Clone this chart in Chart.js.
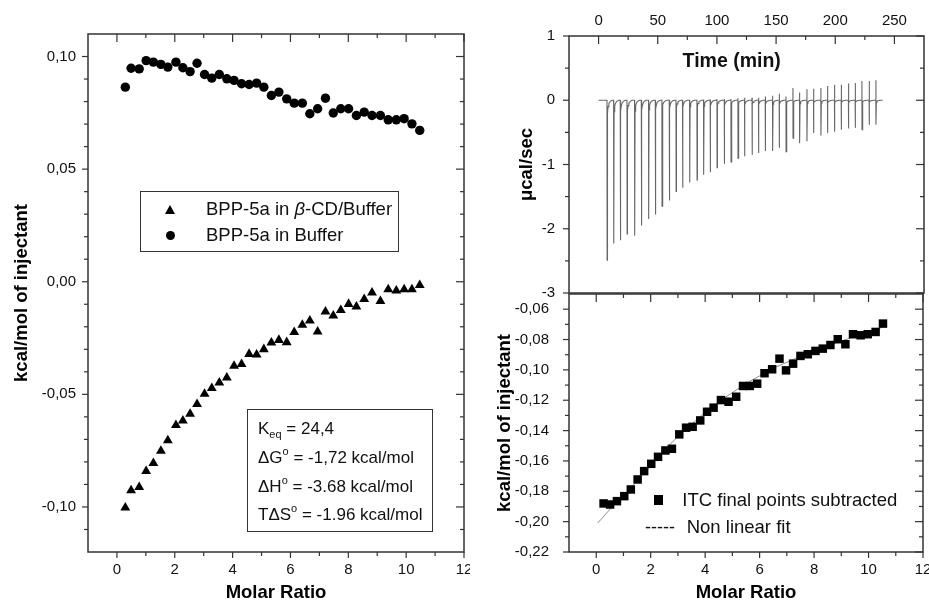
<!DOCTYPE html>
<html><head><meta charset="utf-8">
<script src="https://cdn.jsdelivr.net/npm/chart.js@4.4.1/dist/chart.umd.min.js"></script>
<style>
html,body{margin:0;padding:0;background:#fff;}
body{width:929px;height:600px;overflow:hidden;position:relative;font-family:'Liberation Sans',Arial,sans-serif;color:#111;}
.abs{position:absolute;}
.box{position:absolute;border:1.3px solid #333;box-sizing:border-box;}
.t{position:absolute;white-space:nowrap;line-height:1;transform:translateY(-50%);}
.t sub{font-size:11px;vertical-align:-4px;line-height:0;}
.t sup{font-size:11px;vertical-align:8px;line-height:0;}
</style></head><body>
<canvas id="cL" class="abs" style="left:0;top:0" width="480" height="620"></canvas>
<div class="abs" style="left:470px;top:0;width:459px;height:620px;background:#fff"></div>
<canvas id="cB" class="abs" style="left:470px;top:288px" width="459" height="332"></canvas>
<canvas id="cT" class="abs" style="left:470px;top:0" width="459" height="306"></canvas>

<!-- left legend -->
<div class="box" style="left:140px;top:191px;width:259px;height:61px"></div>
<div class="abs" style="left:164.5px;top:204.5px;width:0;height:0;border-left:5.5px solid transparent;border-right:5.5px solid transparent;border-bottom:9px solid #000"></div>
<div class="abs" style="left:165.5px;top:230.8px;width:9px;height:9px;border-radius:50%;background:#000"></div>
<div class="t" style="left:206px;top:209.3px;font-size:18.5px">BPP-5a in <i>β</i>-CD/Buffer</div>
<div class="t" style="left:206px;top:235.3px;font-size:18.5px">BPP-5a in Buffer</div>

<!-- thermodynamic box -->
<div class="box" style="left:247px;top:409px;width:186px;height:123px"></div>
<div class="t" style="left:258px;top:427.7px;font-size:17px">K<sub>eq</sub> = 24,4</div>
<div class="t" style="left:258px;top:456.7px;font-size:17px">ΔG<sup>o</sup> = -1,72 kcal/mol</div>
<div class="t" style="left:258px;top:485.7px;font-size:17px">ΔH<sup>o</sup> = -3.68 kcal/mol</div>
<div class="t" style="left:258px;top:514.3px;font-size:17px">TΔS<sup>o</sup> = -1.96 kcal/mol</div>

<!-- right panels texts -->
<div class="t" style="left:731.7px;top:61px;font-size:19.5px;font-weight:bold;transform:translate(-50%,-50%)">Time (min)</div>
<div class="abs" style="left:653.7px;top:495.4px;width:9.3px;height:9.3px;background:#000"></div>
<div class="t" style="left:682.3px;top:500px;font-size:18.5px">ITC final points subtracted</div>
<div class="t" style="left:645px;top:526.7px;font-size:18px">-----</div>
<div class="t" style="left:686.7px;top:526.7px;font-size:18.5px">Non linear fit</div>

<script>
// ---------------- data ----------------
const molarRatio = [0.29,0.49,0.77,1.01,1.26,1.52,1.76,2.04,2.28,2.53,2.77,3.03,3.28,3.54,3.80,4.05,4.31,4.57,4.83,5.08,5.34,5.60,5.87,6.13,6.41,6.67,6.94,7.21,7.48,7.74,8.01,8.28,8.55,8.82,9.11,9.38,9.66,9.93,10.20,10.47];
const heatBetaCD = [-0.1003,-0.0927,-0.0912,-0.0841,-0.0806,-0.0751,-0.0705,-0.0637,-0.0617,-0.0587,-0.0544,-0.0498,-0.0473,-0.0448,-0.0426,-0.0374,-0.0366,-0.0321,-0.0324,-0.0300,-0.0271,-0.0259,-0.0269,-0.0224,-0.0192,-0.0173,-0.0222,-0.0133,-0.0151,-0.0126,-0.0099,-0.0111,-0.0077,-0.0049,-0.0086,-0.0034,-0.0040,-0.0034,-0.0034,-0.0015];
const heatBuffer = [0.0864,0.0948,0.0945,0.0982,0.0975,0.0965,0.0953,0.0975,0.0950,0.0933,0.0970,0.0920,0.0904,0.0920,0.0901,0.0894,0.0879,0.0876,0.0882,0.0864,0.0827,0.0842,0.0812,0.0793,0.0793,0.0746,0.0768,0.0815,0.0749,0.0768,0.0768,0.0738,0.0753,0.0738,0.0738,0.0719,0.0719,0.0724,0.0701,0.0672];

const itcRatio = [0.27,0.51,0.76,1.03,1.27,1.52,1.76,2.02,2.27,2.54,2.78,3.05,3.30,3.54,3.82,4.07,4.31,4.58,4.86,5.14,5.39,5.64,5.91,6.18,6.46,6.73,6.97,7.23,7.50,7.77,8.05,8.32,8.60,8.87,9.15,9.43,9.71,9.97,10.26,10.53];
const itcHeat = [-0.188,-0.1887,-0.1865,-0.1832,-0.1788,-0.1722,-0.1667,-0.1619,-0.1573,-0.1531,-0.152,-0.1425,-0.1381,-0.1375,-0.1333,-0.1276,-0.1249,-0.1199,-0.121,-0.1177,-0.1106,-0.1106,-0.1091,-0.1022,-0.0996,-0.0926,-0.1003,-0.0959,-0.0908,-0.0897,-0.0875,-0.086,-0.0836,-0.0798,-0.0831,-0.0765,-0.0772,-0.0765,-0.075,-0.0695];
const fitRatio = [0.05,0.3,0.6,1,1.5,2,2.5,3,3.5,4,4.5,5,5.5,6,6.5,7,7.5,8,8.5,9,9.5,10,10.5];
const fitHeat = [-0.201,-0.196,-0.190,-0.183,-0.173,-0.163,-0.153,-0.144,-0.136,-0.128,-0.121,-0.115,-0.109,-0.104,-0.099,-0.095,-0.091,-0.087,-0.084,-0.081,-0.078,-0.075,-0.072];

const injTime = [7.1,12.7,18.3,24.0,30.4,36.1,42.2,47.9,53.5,59.7,65.4,70.9,76.9,83.1,88.7,94.3,100.0,106.2,111.8,117.7,123.3,129.6,135.1,140.8,147.0,152.6,158.3,164.2,169.8,176.0,181.6,187.8,193.4,199.3,205.0,211.1,216.8,222.5,228.6,234.3];
const peakMin = [-2.49,-2.23,-2.18,-2.08,-2.11,-1.95,-1.85,-1.78,-1.65,-1.56,-1.42,-1.36,-1.28,-1.24,-1.16,-1.12,-1.05,-0.99,-0.96,-0.90,-0.87,-0.85,-0.82,-0.79,-0.79,-0.74,-0.80,-0.59,-0.67,-0.64,-0.51,-0.55,-0.51,-0.49,-0.46,-0.44,-0.43,-0.46,-0.38,-0.38];
const peakMax = [0,0,0,0,0,0,0,0,0,0,0,0,0,0,0.01,0.01,0.02,0.02,0.02,0.03,0.04,0.04,0.04,0.06,0.07,0.10,0.06,0.19,0.12,0.17,0.18,0.19,0.22,0.24,0.24,0.26,0.27,0.30,0.30,0.31];
const tailOffset = [0.3, 0.8, 1.5, 2.5, 4.0];
const tailFrac = [0.08, 0.04, 0.02, 0.008, 0];
const runEnd = 240;

// ticks and labels
const ratioTicks = [0,2,4,6,8,10,12];
const ratioLabels = ['0','2','4','6','8','10','12'];
const ratioMinor = [1,3,5,7,9,11];
const leftYTicks = [-0.10,-0.05,0,0.05,0.10];
const leftYLabels = ['-0,10','-0,05','0,00','0,05','0,10'];
const leftYMinor = [-0.11,-0.09,-0.08,-0.07,-0.06,-0.04,-0.03,-0.02,-0.01,0.01,0.02,0.03,0.04,0.06,0.07,0.08,0.09];
const timeTicks = [0,50,100,150,200,250];
const timeLabels = ['0','50','100','150','200','250'];
const timeMinor = [25,75,125,175,225];
const powerTicks = [-3,-2,-1,0,1];
const powerLabels = ['-3','-2','-1','0','1'];
const powerMinor = [-2.5,-1.5,-0.5,0.5];
const itcYTicks = [-0.22,-0.20,-0.18,-0.16,-0.14,-0.12,-0.10,-0.08,-0.06];
const itcYLabels = ['-0,22','-0,20','-0,18','-0,16','-0,14','-0,12','-0,10','-0,08','-0,06'];
const itcYMinor = [-0.21,-0.19,-0.17,-0.15,-0.13,-0.11,-0.09,-0.07];

// ---------------- helpers ----------------
const FONT = "'Liberation Sans', Arial, sans-serif";
const NARROW = "'Liberation Sans Narrow', 'Liberation Sans', Arial, sans-serif";

function fixSize(w, h) {
  return function (s) {
    if (w !== null) s.width = w;
    if (h !== null) s.height = h;
    s.paddingLeft = 0; s.paddingRight = 0; s.paddingTop = 0; s.paddingBottom = 0;
  };
}
function axis(o) {
  return {
    type: 'linear', position: o.position, min: o.min, max: o.max,
    afterBuildTicks: s => { s.ticks = o.ticks.map(v => ({ value: v })); },
    afterFit: fixSize(o.w === undefined ? null : o.w, o.h === undefined ? null : o.h),
    grid: { display: false, drawTicks: false },
    border: { display: false },
    ticks: { autoSkip: false, maxRotation: 0, minRotation: 0, padding: o.pad, color: '#111',
      font: { family: o.family || FONT, size: o.size || 15 },
      callback: (v, i) => o.labels[i] },
    title: o.title ? { display: true, text: o.title, color: '#000',
      font: { family: FONT, size: 18.5, weight: 'bold' }, padding: o.titlePad } : { display: false }
  };
}

const frameTicks = {
  id: 'frameTicks',
  afterDraw(chart, args, opts) {
    const { ctx, chartArea: a } = chart;
    ctx.save();
    ctx.strokeStyle = '#333';
    ctx.lineWidth = 1.5;
    ctx.strokeRect(a.left, a.top, a.right - a.left, a.bottom - a.top);
    ctx.lineWidth = 1.2;
    for (const side of opts.sides) {
      const scale = chart.scales[side.scale];
      const sets = [[side.major, side.dir === 'out' ? 6 : 8], [side.minor, 4]];
      for (const [vals, len] of sets) {
        for (const v of vals) {
          const p = scale.getPixelForValue(v);
          const d = side.dir === 'out' ? -len : len;
          ctx.beginPath();
          if (side.pos === 'left') { ctx.moveTo(a.left, p); ctx.lineTo(a.left + d, p); }
          else if (side.pos === 'right') { ctx.moveTo(a.right, p); ctx.lineTo(a.right - d, p); }
          else if (side.pos === 'top') { ctx.moveTo(p, a.top); ctx.lineTo(p, a.top + d); }
          else { ctx.moveTo(p, a.bottom); ctx.lineTo(p, a.bottom - d); }
          ctx.stroke();
        }
      }
    }
    ctx.restore();
  }
};

function baseOptions(padding, sides, scales) {
  return {
    responsive: false, animation: false, devicePixelRatio: 1,
    layout: { padding },
    plugins: { legend: { display: false }, tooltip: { enabled: false }, frameTicks: { sides } },
    scales
  };
}

// ---------------- left panel ----------------
new Chart(document.getElementById('cL'), {
  type: 'scatter',
  data: { datasets: [
    { label: 'BPP-5a in β-CD/Buffer', data: molarRatio.map((x, i) => ({ x, y: heatBetaCD[i] })),
      pointStyle: 'triangle', pointRadius: 5.7, backgroundColor: '#000', borderColor: '#000', borderWidth: 0 },
    { label: 'BPP-5a in Buffer', data: molarRatio.map((x, i) => ({ x, y: heatBuffer[i] })),
      pointStyle: 'circle', pointRadius: 4.7, backgroundColor: '#000', borderColor: '#000', borderWidth: 0 }
  ]},
  options: baseOptions({ left: 0, top: 34, right: 16, bottom: 0 },
    [ { pos: 'left', scale: 'y', dir: 'out', major: leftYTicks, minor: leftYMinor },
      { pos: 'right', scale: 'y', dir: 'in', major: leftYTicks, minor: leftYMinor },
      { pos: 'top', scale: 'x', dir: 'in', major: ratioTicks, minor: ratioMinor },
      { pos: 'bottom', scale: 'x', dir: 'out', major: ratioTicks, minor: ratioMinor } ],
    {
      x: axis({ position: 'bottom', min: -1, max: 12, ticks: ratioTicks, labels: ratioLabels, h: 68, pad: 9,
        title: 'Molar Ratio', titlePad: { top: 0, bottom: 16 } }),
      y: axis({ position: 'left', min: -0.12, max: 0.11, ticks: leftYTicks, labels: leftYLabels, w: 88, pad: 12,
        title: 'kcal/mol of injectant', titlePad: { top: 11, bottom: 0 } })
    }),
  plugins: [frameTicks]
});

// ---------------- right top: raw thermogram ----------------
const thermo = [{ x: 0, y: 0 }];
injTime.forEach((t, i) => {
  thermo.push({ x: t, y: 0 });
  if (peakMax[i] > 0) thermo.push({ x: t + 0.05, y: peakMax[i] });
  thermo.push({ x: t + 0.12, y: peakMin[i] });
  tailOffset.forEach((o, k) => thermo.push({ x: t + 0.12 + o, y: peakMin[i] * tailFrac[k] }));
});
thermo.push({ x: runEnd, y: 0 });

new Chart(document.getElementById('cT'), {
  type: 'scatter',
  data: { datasets: [
    { label: 'Raw ITC', data: thermo, showLine: true, pointRadius: 0, borderColor: '#666', borderWidth: 1.1, tension: 0 }
  ]},
  options: baseOptions({ left: 0, top: 0, right: 5, bottom: 13 },
    [ { pos: 'left', scale: 'y', dir: 'out', major: powerTicks, minor: powerMinor },
      { pos: 'right', scale: 'y', dir: 'in', major: powerTicks, minor: powerMinor },
      { pos: 'top', scale: 'x', dir: 'in', major: timeTicks, minor: timeMinor } ],
    {
      x: axis({ position: 'top', min: -25, max: 275, ticks: timeTicks, labels: timeLabels, h: 36, pad: 6 }),
      y: axis({ position: 'left', min: -3, max: 1, ticks: powerTicks, labels: powerLabels, w: 99, pad: 14,
        family: NARROW, title: 'μcal/sec', titlePad: { top: 46, bottom: 0 } })
    }),
  plugins: [frameTicks]
});

// ---------------- right bottom: integrated heats ----------------
new Chart(document.getElementById('cB'), {
  type: 'scatter',
  data: { datasets: [
    { label: 'ITC final points subtracted', data: itcRatio.map((x, i) => ({ x, y: itcHeat[i] })),
      pointStyle: 'rect', pointRadius: 6, backgroundColor: '#000', borderColor: '#000', borderWidth: 0, order: 1 },
    { label: 'Non linear fit', data: fitRatio.map((x, i) => ({ x, y: fitHeat[i] })),
      showLine: true, pointRadius: 0, borderColor: '#8a8a8a', borderWidth: 1, tension: 0.4, order: 2 }
  ]},
  options: baseOptions({ left: 0, top: 5, right: 5, bottom: 0 },
    [ { pos: 'left', scale: 'y', dir: 'out', major: itcYTicks, minor: itcYMinor },
      { pos: 'right', scale: 'y', dir: 'in', major: itcYTicks, minor: itcYMinor },
      { pos: 'top', scale: 'x', dir: 'in', major: ratioTicks, minor: ratioMinor },
      { pos: 'bottom', scale: 'x', dir: 'out', major: ratioTicks, minor: ratioMinor } ],
    {
      x: axis({ position: 'bottom', min: -1, max: 12, ticks: ratioTicks, labels: ratioLabels, h: 68, pad: 9,
        title: 'Molar Ratio', titlePad: { top: 0, bottom: 16 } }),
      y: axis({ position: 'left', min: -0.22, max: -0.05, ticks: itcYTicks, labels: itcYLabels, w: 99, pad: 20,
        family: NARROW, title: 'kcal/mol of injectant', titlePad: { top: 24, bottom: 0 } })
    }),
  plugins: [frameTicks]
});
</script>
</body></html>
